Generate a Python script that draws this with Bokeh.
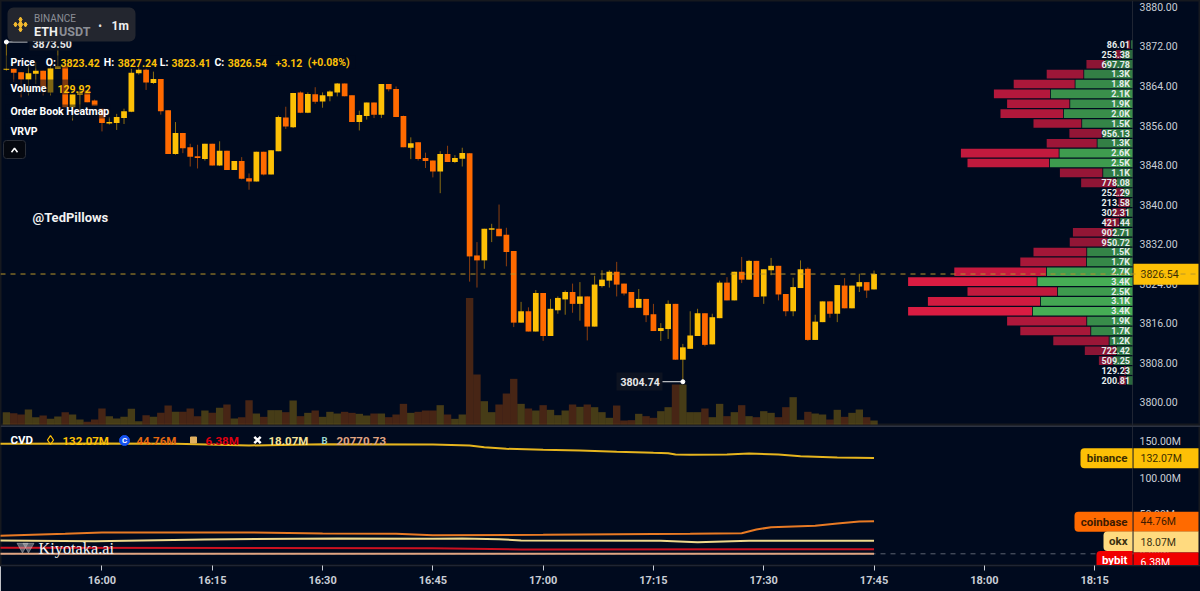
from bokeh.plotting import figure
from bokeh.layouts import column
from bokeh.models import Range1d, LinearAxis, SingleIntervalTicker, FixedTicker, PrintfTickFormatter, Span, ColumnDataSource
from bokeh.core.properties import value
from bokeh.embed import file_html
from bokeh.resources import INLINE

# ---------- data ----------
first_minute = 947   # 15:47
opens = [3867.9,3868.1,3867.4,3865.9,3867.05,3867.7,3863.3,3868.1,3868.7,3860.3,
3862.8,3863.7,3861.65,3860.0,3857.0,3857.1,3858.1,3859.4,3867.2,3867.9,
3865.2,3866.0,3859.7,3850.85,3855.1,3852.2,3850.4,3849.8,3852.9,3848.5,
3851.5,3847.6,3849.4,3845.9,3845.25,3851.3,3846.7,3851.4,3858.2,3856.25,
3863.3,3859.2,3862.9,3861.45,3862.5,3863.3,3865.1,3862.7,3857.3,3858.5,
3861.25,3858.8,3865.0,3864.0,3858.5,3852.1,3853.2,3850.0,3849.5,3847.3,
3850.85,3849.2,3849.85,3851.0,3830.3,3829.3,3835.5,3835.7,3834.5,3831.2,
3816.7,3819.0,3814.9,3822.7,3814.0,3819.2,3821.4,3822.9,3820.5,3822.0,
3815.9,3824.1,3825.2,3827.0,3824.6,3822.9,3819.7,3821.5,3818.4,3815.0,
3815.4,3820.5,3809.2,3811.4,3814.0,3818.6,3812.3,3817.6,3824.8,3821.2,
3827.0,3825.4,3829.2,3822.0,3827.3,3828.2,3822.5,3819.0,3823.7,3827.6,
3813.2,3816.8,3821.0,3818.5,3824.2,3819.6,3824.0,3824.9,3823.42]
closes = [3868.1,3867.3,3865.9,3867.2,3867.7,3864.35,3868.2,3868.6,3860.3,3862.9,
3863.5,3861.3,3860.6,3857.1,3857.3,3858.3,3859.5,3867.3,3867.9,3865.3,
3866.0,3859.5,3850.85,3855.1,3852.0,3850.3,3850.0,3852.9,3848.5,3851.5,
3847.6,3849.4,3845.8,3845.25,3851.3,3846.7,3851.6,3858.3,3856.4,3863.2,
3859.2,3863.0,3861.4,3862.7,3863.5,3865.1,3862.5,3857.3,3858.75,3861.25,
3858.8,3865.0,3863.95,3858.3,3852.2,3853.0,3849.8,3849.4,3847.3,3850.85,
3849.2,3850.0,3851.05,3830.1,3829.3,3835.7,3835.8,3834.2,3831.0,3816.7,
3819.0,3814.9,3822.7,3814.0,3819.5,3821.7,3822.9,3820.5,3822.0,3815.9,
3824.4,3825.4,3827.0,3824.4,3822.6,3819.7,3821.5,3818.2,3815.0,3815.6,
3820.5,3809.2,3811.7,3814.1,3818.6,3812.2,3817.8,3824.8,3821.2,3827.0,
3825.4,3829.2,3821.9,3827.5,3828.2,3822.4,3819.0,3823.9,3827.5,3813.2,
3816.9,3821.0,3818.5,3824.3,3819.6,3824.2,3824.9,3823.2,3826.54]
highs = [3873.5,3868.1,3867.4,3868.7,3869.4,3867.7,3868.7,3872.1,3868.7,3862.9,
3864.2,3863.7,3861.85,3860.0,3858.3,3858.95,3860.0,3868.1,3868.7,3868.1,
3867.5,3866.0,3859.7,3857.3,3855.1,3852.9,3852.7,3852.9,3852.9,3853.4,
3851.5,3849.4,3850.2,3846.9,3851.3,3851.3,3851.6,3858.6,3860.4,3863.2,
3863.5,3863.3,3864.35,3863.3,3863.7,3865.2,3865.1,3862.7,3859.6,3861.25,
3861.25,3865.0,3865.0,3864.5,3858.6,3854.2,3853.2,3851.1,3849.5,3851.4,
3852.5,3850.6,3852.1,3851.0,3833.0,3835.7,3836.7,3840.6,3835.9,3831.2,
3820.9,3819.8,3823.3,3822.7,3821.5,3822.0,3823.2,3824.6,3824.9,3822.0,
3826.2,3827.3,3827.3,3829.0,3824.6,3822.9,3823.5,3821.5,3820.5,3816.6,
3821.2,3820.5,3812.4,3819.0,3819.5,3818.6,3818.5,3825.2,3825.9,3827.0,
3830.0,3829.4,3829.2,3827.5,3829.8,3828.2,3822.5,3825.8,3829.3,3827.9,
3818.3,3821.0,3821.0,3824.3,3825.7,3824.2,3826.6,3824.9,3827.24]
lows = [3867.7,3865.4,3862.3,3862.7,3865.0,3862.7,3862.7,3868.1,3860.3,3857.6,
3859.3,3861.3,3860.6,3855.4,3856.8,3855.7,3856.9,3859.3,3866.9,3863.8,
3865.0,3858.8,3850.85,3850.7,3851.0,3848.3,3847.9,3849.5,3848.5,3848.4,
3847.6,3847.6,3845.7,3843.6,3845.25,3846.5,3846.7,3851.4,3855.9,3856.1,
3859.1,3859.1,3861.0,3860.2,3861.5,3862.5,3862.5,3857.3,3855.6,3857.8,
3858.1,3858.1,3863.5,3858.3,3852.2,3849.8,3849.5,3848.0,3846.1,3842.9,
3849.2,3849.0,3848.3,3825.0,3823.8,3827.6,3833.0,3834.2,3828.1,3815.8,
3816.7,3814.9,3814.9,3813.0,3814.0,3818.5,3818.3,3818.7,3817.1,3813.1,
3815.9,3823.8,3823.8,3822.0,3822.2,3819.7,3819.7,3816.8,3815.0,3813.0,
3813.4,3809.2,3804.74,3811.4,3814.0,3811.9,3812.3,3817.6,3821.2,3821.2,
3824.7,3825.4,3821.9,3820.5,3826.3,3821.2,3818.0,3818.0,3823.7,3813.0,
3813.2,3816.8,3817.7,3816.8,3819.6,3819.6,3822.9,3821.7,3823.41]
volumes = [401,368,325,487,238,292,184,260,401,325,162,87,162,520,271,195,249,509,108,303,
249,379,617,412,412,520,271,455,379,542,650,195,238,791,357,249,466,466,401,780,
271,379,455,249,412,357,412,379,347,292,357,357,238,325,671,379,412,455,455,628,325,
184,325,4115,1625,758,401,650,1007,1484,671,520,455,628,477,303,455,650,574,650,563,
401,217,617,130,141,347,271,217,433,563,1300,1300,401,401,520,238,671,271,401,628,
271,238,433,379,238,563,888,152,412,357,325,162,477,249,379,487,238,129.92]

vrvp_prices = [3873,3871,3869,3867,3865,3863,3861,3859,3857,3855,3853,3851,3849,3847,3845,3843,3841,3839,
3837,3835,3833,3831,3829,3827,3825,3823,3821,3819,3817,3815,3813,3811,3809,3807,3805]
vrvp_total = [86.01,253.38,697.78,1300,1800,2100,1900,2000,1500,956.13,1300,2600,2500,1100,778.08,252.29,213.58,302.31,
421.44,902.71,950.72,1500,1700,2700,3400,2500,3100,3400,1900,1700,1200,722.42,509.25,129.23,200.81]
vrvp_buy = [25,162,414,732,864,1237,944,1040,763,455,530,1106,1252,444,237,136,35,86,
187,288,364,687,692,1298,1439,1131,1389,1510,687,626,348,237,288,86,86]

binance_t = [946,960,970,980,990,1005,1010,1012,1015,1020,1025,1030,1035,1037,1038,1040,1045,1048,1052,1055,1060,1065]
binance_v = [151.5,151.9,151.5,149.2,151.0,150.6,149.2,146.8,144.6,143.3,142.3,140.5,139.1,138.6,136.8,136.4,136.8,138.2,136.8,134.4,132.6,132.07]
coinbase_t = [946,955,960,980,990,1000,1005,1020,1030,1040,1047,1049,1051,1057,1060,1063,1065]
coinbase_v = [24.8,27.5,29.3,29.3,28.0,27.5,25.6,26.2,27.0,27.5,28.4,33.5,36.6,38.6,41.7,44.5,44.76]
okx_t = [946,959,974,992,1005,1009,1014,1017,1036,1041,1048,1065]
okx_v = [18.3,17.4,19.7,21.1,20.7,21.1,20.1,18.3,17.9,16.0,17.9,18.07]
bybit_t = [946,1005,1017,1065]
bybit_v = [8.3,7.7,5.9,6.38]
bitmex_t = [946,1065]
bitmex_v = [0.02,0.0208]

time_ticks = [960,975,990,1005,1020,1035,1050,1065,1080,1095]
time_labels = ["16:00","16:15","16:30","16:45","17:00","17:15","17:30","17:45","18:00","18:15"]

# ---------- style / scale constants ----------
BG = "#000a1e"
YEL = "#fdc006"
ORG = "#ff6a00"
FONT = "Roboto"
W = 1200
PX_PER_MIN = 7.353
X0 = 946.2
P_TOP = 3881.9
PX_TO_P = 0.2024
PANE1_H = 425
CVD_PX = 0.726
CVD_ZERO_Y = 553.3
PANE2_FRAME = 140

def xm(px): return X0 + px / PX_PER_MIN
def py(y): return P_TOP - y * PX_TO_P
def cy(y): return (CVD_ZERO_Y - y) / CVD_PX

x_right = xm(W)
x_axis = xm(1132)

minutes = [first_minute + i for i in range(len(opens))]
colors = [YEL if c >= o else ORG for o, c in zip(opens, closes)]
src = ColumnDataSource(dict(t=minutes, o=opens, h=highs, l=lows, c=closes, v=volumes, col=colors,
                            top=[max(a, b) for a, b in zip(opens, closes)],
                            bot=[min(a, b) for a, b in zip(opens, closes)]))

def base(height, **kw):
    f = figure(width=W, height=height, output_backend="svg", toolbar_location=None,
               x_range=Range1d(X0, x_right), min_border=0, min_border_left=0, min_border_right=0,
               min_border_top=0, background_fill_color=BG, border_fill_color=BG, **kw)
    f.grid.visible = False
    f.outline_line_color = "#16191f"
    f.outline_line_width = 2
    return f

# ---------- price pane ----------
p = base(PANE1_H, y_range=Range1d(py(PANE1_H), py(0)), x_axis_location=None, y_axis_location=None)
p.min_border_bottom = 0
p.extra_y_ranges = {
    "axis": Range1d(py(PANE1_H) - 0.6, py(0) - 0.6),
    "vol": Range1d(-32.5, 424 * 32.5),
}
p.extra_x_ranges = {"vrvp": Range1d(1132 / 0.066, (1132 - W) / 0.066)}

ax = LinearAxis(y_range_name="axis", fixed_location=x_axis, ticker=SingleIntervalTicker(interval=8, num_minor_ticks=0),
                formatter=PrintfTickFormatter(format="%.2f"))
ax.major_tick_line_color = None
ax.minor_tick_line_color = None
ax.axis_line_color = "#1f2533"
ax.major_label_text_color = "#c9ced6"
ax.major_label_text_font = FONT
ax.major_label_text_font_size = "10.5px"
ax.major_label_standoff = 1
ax.level = "underlay"
p.add_layout(ax, "right")

p.vbar(x="t", top="v", bottom=0, width=1.0, source=src, y_range_name="vol", fill_color="col", fill_alpha=0.28, line_color=None)
p.add_layout(Span(location=closes[-1], dimension="width", line_color="#b8962a", line_dash=[5, 5], line_width=1, level="glyph"))
p.segment(x0="t", x1="t", y0="l", y1="h", source=src, line_color="col", line_alpha=0.55, line_width=1)
p.vbar(x="t", top="top", bottom="bot", width=0.78, source=src, fill_color="col", line_color=None)

# VRVP
alpha = [0.55 + 0.45 * t / max(vrvp_total) for t in vrvp_total]
vsrc = ColumnDataSource(dict(y=vrvp_prices, buy=vrvp_buy, total=vrvp_total, gapbuy=[b + 12 for b in vrvp_buy], a=alpha,
                             lab=[f"{t/1000:.1f}K" if t >= 1000 else f"{t:.2f}" for t in vrvp_total]))
p.hbar(y="y", left=0, right="buy", height=1.75, source=vsrc, x_range_name="vrvp", fill_color="#46ad55", fill_alpha="a", line_color=None)
p.hbar(y="y", left="gapbuy", right="total", height=1.75, source=vsrc, x_range_name="vrvp", fill_color="#d91c42", fill_alpha="a", line_color=None)
p.text(x=0, y="y", text="lab", source=vsrc, x_range_name="vrvp", x_offset=-2.5, text_align="right", text_baseline="middle",
       text_color="#e6ecec", text_font=value(FONT), text_font_size="9px", text_font_style="bold")

def T(fig, yf, x, y, s, color="#ffffff", size=10.5, bold=True, align="left", font=FONT):
    fig.text(x=[xm(x)], y=[yf(y)], text=[s], text_color=color, text_font=value(font), text_font_size=f"{size}px",
             text_font_style="bold" if bold else "normal", text_align=align, text_baseline="middle")

def B(fig, yf, l, r, t, b, color, alpha=1.0, radius=0, line=None):
    fig.quad(left=[xm(l)], right=[xm(r)], top=[yf(t)], bottom=[yf(b)], fill_color=color, fill_alpha=alpha,
             line_color=line, border_radius=radius)

# last price tag
B(p, py, 1133, 1198, 263.3, 284.3, YEL)
T(p, py, 1140, 273.8, "3826.54", "#3a2c00", 10.5, False)

# high marker
ihi = highs.index(max(highs))
p.segment(x0=[minutes[ihi]], x1=[xm(27)], y0=[highs[ihi]], y1=[highs[ihi]], line_color="#e8e8e8", line_width=1)
p.scatter(x=[minutes[ihi]], y=[highs[ihi]], size=4, color="#ffffff")
B(p, py, 29, 71, 37, 50, "#0e1422", 0.9)
T(p, py, 32, 43.5, f"{highs[ihi]:.2f}", "#e8e8e8", 10.5)

# low marker
ilo = lows.index(min(lows))
B(p, py, 616, 662, 372, 390, "#0e1422", 0.95)
T(p, py, 620, 381.3, f"{lows[ilo]:.2f}", "#e8e8e8", 10.5)
p.segment(x0=[minutes[ilo]], x1=[xm(662)], y0=[lows[ilo]], y1=[lows[ilo]], line_color="#e8e8e8", line_width=1)
p.scatter(x=[minutes[ilo]], y=[lows[ilo]], size=4, color="#ffffff")

# legend halos
for l, r, t, b in [(5, 355, 55, 68), (5, 90, 79, 94), (5, 110, 104, 118), (5, 38, 124, 137)]:
    B(p, py, l, r, t, b, BG, 0.5)
T(p, py, 10, 61.5, "Price")
for x, s, c in [(45.3, "O:", "#ffffff"), (60, "3823.42", YEL), (103.3, "H:", "#ffffff"), (117.3, "3827.24", YEL),
                (159.3, "L:", "#ffffff"), (171, "3823.41", YEL), (214, "C:", "#ffffff"), (227.3, "3826.54", YEL),
                (275, "+3.12", YEL), (307.3, "(+0.08%)", YEL)]:
    T(p, py, x, 62, s, c)
T(p, py, 10, 87.5, "Volume")
T(p, py, 57, 88, "129.92", YEL)
T(p, py, 10, 111, "Order Book Heatmap")
T(p, py, 10, 130.5, "VRVP")
B(p, py, 3, 25, 140, 158, "#05080f", 1.0, 3, "#2b2f38")
p.line([xm(11), xm(14), xm(17)], [py(151.7), py(147.7), py(151.7)], line_color="#ffffff", line_width=1.5)
T(p, py, 32, 217, "@TedPillows", "#f2f2f2", 13)

# symbol badge
B(p, py, 7, 135, 7, 41, "#23262f", 1.0, 6)
for dx, dy, sz in [(0, 0, 7), (-5, 0, 5), (5, 0, 5), (0, -5, 5), (0, 5, 5)]:
    p.scatter(x=[xm(20 + dx)], y=[py(24 + dy)], marker="diamond", size=sz, color="#f3ba2f")
T(p, py, 33.5, 18, "BINANCE", "#8b8e96", 10, False)
T(p, py, 33.5, 31, "ETH", "#f0f0f0", 12.5)
T(p, py, 58.5, 31, "USDT", "#8b8e96", 12.5)
T(p, py, 99.5, 25.5, "•", "#e0e0e0", 10, True, "center")
T(p, py, 111, 25.5, "1m", "#f0f0f0", 12)

# ---------- CVD pane ----------
q = base(166, y_range=Range1d(cy(PANE1_H + PANE2_FRAME), cy(PANE1_H)), x_axis_location="below", y_axis_location=None)
q.min_border_bottom = 26
q.extra_y_ranges = {"axis": Range1d(cy(PANE1_H + PANE2_FRAME) - 3 / CVD_PX, cy(PANE1_H) - 3 / CVD_PX)}
q.xaxis.ticker = FixedTicker(ticks=time_ticks)
q.xaxis.major_label_overrides = dict(zip(time_ticks, time_labels))
q.xaxis.axis_line_color = "#1f2533"
q.xaxis.major_tick_line_color = "#c9ced6"
q.xaxis.major_tick_in = 0
q.xaxis.major_tick_out = 5
q.xaxis.minor_tick_line_color = None
q.xaxis.major_label_standoff = 3
q.xaxis.major_label_text_color = "#c9ced6"
q.xaxis.major_label_text_font = FONT
q.xaxis.major_label_text_font_size = "11px"
q.xaxis.major_label_text_font_style = "bold"

ay = LinearAxis(y_range_name="axis", fixed_location=x_axis, ticker=SingleIntervalTicker(interval=50, num_minor_ticks=0),
                formatter=PrintfTickFormatter(format="%.2fM"))
ay.major_tick_line_color = None
ay.minor_tick_line_color = None
ay.axis_line_color = "#1f2533"
ay.major_label_text_color = "#c9ced6"
ay.major_label_text_font = FONT
ay.major_label_text_font_size = "10.5px"
ay.major_label_standoff = 1
ay.level = "underlay"
q.add_layout(ay, "right")

q.add_layout(Span(location=0, dimension="width", line_color="#5a6270", line_dash=[5, 5], line_width=1, level="underlay"))
q.add_layout(Span(location=cy(PANE1_H + 0.5), dimension="width", line_color="#2d3341", line_width=2, level="glyph"))
LW = 2
q.line(binance_t, binance_v, line_color="#e6b51e", line_width=LW)
q.line(coinbase_t, coinbase_v, line_color="#e87a24", line_width=LW)
q.line(okx_t, okx_v, line_color="#efd98c", line_width=LW)
q.line(bybit_t, bybit_v, line_color="#cc1020", line_width=LW)
q.line(bitmex_t, bitmex_v, line_color="#e0a582", line_width=LW)

T(q, cy, 10, 439.5, "CVD", "#ffffff", 11.5)
q.scatter(x=[xm(50)], y=[cy(439.5)], marker="diamond", size=9, fill_color=None, line_color=YEL, line_width=1.3)
T(q, cy, 62, 440, "132.07M", YEL, 11.5)
q.scatter(x=[xm(124)], y=[cy(440)], marker="circle", size=10, color="#1652f0")
T(q, cy, 124, 440, "C", "#ffffff", 8, True, "center")
T(q, cy, 136, 440, "44.76M", "#e86a10", 11.5)
q.scatter(x=[xm(193)], y=[cy(439.5)], marker="square", size=6, color="#e0b060")
T(q, cy, 205, 440, "6.38M", "#e00010", 11.5)
q.scatter(x=[xm(257)], y=[cy(439.5)], marker="x", size=9, line_color="#ffffff", line_width=2.5)
T(q, cy, 268, 440, "18.07M", "#f6e39a", 11.5)
T(q, cy, 324, 440, "B", "#9fd8d0", 9.5, True, "center")
T(q, cy, 336, 440, "20770.73", "#e0a582", 11.5)

# watermark
q.scatter(x=[xm(22), xm(28)], y=[cy(546), cy(546)], marker="inverted_triangle", size=11, color="#c8c8c8", alpha=0.45)
T(q, cy, 38, 547.5, "Kiyotaka.ai", "#f2f2f2", 16.3, False, "left", "Liberation Serif")

# right-hand tags: pill left edge, pill top/bottom, value top/bottom, colour, name, value text, text colour
tags = [(1080, 447.7, 467.7, 447.7, 467.7, YEL, "binance", "132.07M", "#3a2c00"),
        (1074, 511.3, 531.3, 511.3, 531.3, ORG, "coinbase", "44.76M", "#3d1a00"),
        (1103, 531, 550.5, 531, 552, "#ffda7f", "okx", "18.07M", "#3a3010"),
        (1096, 550.5, 568, 552, 572, "#f00000", "bybit", "6.38M", "#ffffff")]
for l, t, b, vt, vb, col, name, val, tc in tags:
    B(q, cy, l, 1132, t, b, col, 1.0, {"top_left": 4, "top_right": 0, "bottom_right": 0, "bottom_left": 4})
    B(q, cy, 1133, 1198, vt, vb, col)
    T(q, cy, 1127, (t + b) / 2, name, tc, 11.5, True, "right")
    T(q, cy, 1140, (vt + vb) / 2, val, tc, 10.5, False)

page = column(p, q, spacing=0)
open("out.html", "w").write(file_html(page, INLINE))
